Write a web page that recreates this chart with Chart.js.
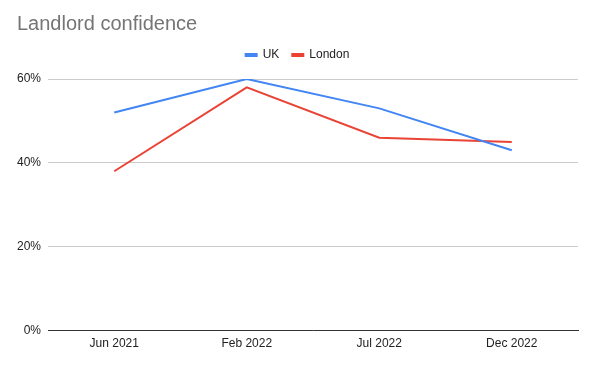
<!DOCTYPE html>
<html>
<head>
<meta charset="utf-8">
<script src="https://cdn.jsdelivr.net/npm/chart.js@4"></script>
<style>
  html, body { margin: 0; padding: 0; background: #fff; }
  #wrap { width: 596px; height: 366px; }
</style>
</head>
<body>
<div id="wrap"><canvas id="chart" width="596" height="366"></canvas></div>
<script>
const periods = ['Jun 2021', 'Feb 2022', 'Jul 2022', 'Dec 2022'];
const ukValues = [52, 60, 53, 43];
const londonValues = [38, 58, 46, 45];
const yTicks = [0, 20, 40, 60];

const FONT = 'Arial, "Liberation Sans", sans-serif';

// add a bit of room under the legend
const legendGap = {
  id: 'legendGap',
  beforeLayout(chart) {
    const legend = chart.legend;
    if (legend && !legend._gapPatched) {
      const fit = legend.fit;
      legend.fit = function () {
        fit.call(this);
        this.height += 8;
      };
      legend._gapPatched = true;
    }
  }
};

const ctx = document.getElementById('chart').getContext('2d');
new Chart(ctx, {
  type: 'line',
  data: {
    labels: periods,
    datasets: [
      {
        label: 'UK',
        data: ukValues,
        borderColor: '#4285f4',
        backgroundColor: '#4285f4',
        borderWidth: 2,
        pointRadius: 0,
        tension: 0
      },
      {
        label: 'London',
        data: londonValues,
        borderColor: '#ea4335',
        backgroundColor: '#ea4335',
        borderWidth: 2,
        pointRadius: 0,
        tension: 0
      }
    ]
  },
  plugins: [legendGap],
  options: {
    responsive: false,
    animation: false,
    layout: { padding: { left: 17, right: 18, top: 0, bottom: 17 } },
    plugins: {
      title: {
        display: true,
        text: 'Landlord confidence',
        align: 'start',
        color: '#757575',
        font: { family: FONT, size: 20, weight: 'normal' },
        padding: { top: 12, bottom: 0 }
      },
      legend: {
        labels: {
          boxWidth: 11,
          boxHeight: 2,
          color: '#222',
          font: { family: FONT, size: 12 },
          padding: 13
        }
      },
      tooltip: { enabled: false }
    },
    scales: {
      x: {
        offset: true,
        grid: { display: false },
        border: { display: true, color: '#333', width: 1 },
        ticks: { color: '#222', font: { family: FONT, size: 12 }, padding: -2 }
      },
      y: {
        min: 0,
        max: 60,
        afterFit: (scale) => { scale.width = 31; },
        afterBuildTicks: (scale) => { scale.ticks = yTicks.map(v => ({ value: v })); },
        grid: { color: '#cccccc', drawTicks: false },
        border: { display: false },
        ticks: {
          color: '#222',
          font: { family: FONT, size: 12 },
          padding: 7,
          callback: (v) => v + '%'
        }
      }
    }
  }
});
</script>
</body>
</html>
